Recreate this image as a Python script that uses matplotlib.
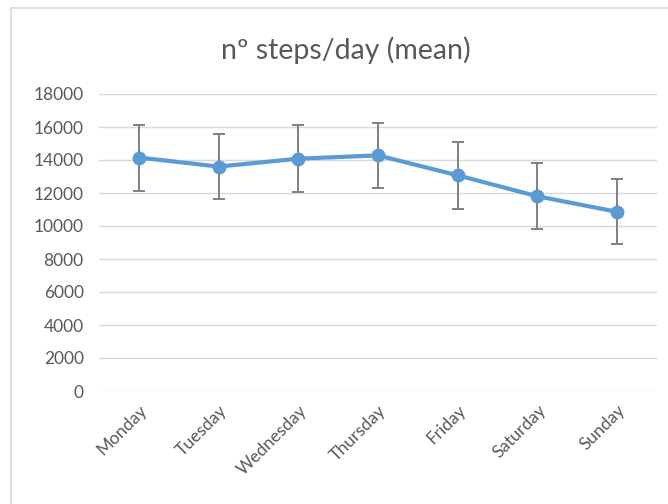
import matplotlib.pyplot as plt
from matplotlib.patches import Rectangle

# mean steps per day with error bars
days = ["Monday", "Tuesday", "Wednesday", "Thursday", "Friday", "Saturday", "Sunday"]
mean_steps = [14150, 13600, 14080, 14280, 13070, 11800, 10860]
err_steps = [2000, 1980, 2020, 1990, 2010, 1990, 1980]

plt.rcParams['font.family'] = ['Lato', 'DejaVu Sans']

fig = plt.figure(figsize=(6.68, 5.04), dpi=100)

# light frame around the chart
frame = Rectangle((11 / 668, -0.1), 1.2, (504 - 8) / 504 + 0.1,
                  transform=fig.transFigure, fill=False,
                  edgecolor='#D9D9D9', linewidth=1.2, zorder=0)
fig.patches.append(frame)

ax = fig.add_axes([99 / 668, (504 - 391) / 504, (657 - 99) / 668, (391 - 94) / 504])

x = range(len(days))
ax.errorbar(x, mean_steps, yerr=err_steps, fmt='none', ecolor='#808080',
            elinewidth=1.4, capsize=4.5, capthick=1.4, zorder=2)
ax.plot(x, mean_steps, color='#5B9BD5', linewidth=3, marker='o',
        markersize=9, zorder=3)

ax.set_xlim(-0.5, len(days) - 0.5)
ax.set_ylim(0, 18000)
ax.set_yticks(range(0, 18001, 2000))
ax.set_xticks(list(x))
ax.set_xticklabels(days, rotation=45, ha='right', rotation_mode='anchor')

ax.grid(axis='y', color='#D9D9D9', linewidth=1)
ax.set_axisbelow(True)
for s in ax.spines.values():
    s.set_visible(False)
ax.tick_params(axis='both', length=0, labelsize=12.5, labelcolor='#595959')
ax.tick_params(axis='y', pad=11)
ax.tick_params(axis='x', pad=8)

fig.text(345.5 / 668, (504 - 50) / 504, "nº steps/day (mean)", ha='center',
         va='center', fontsize=20.5, color='#595959')

fig.savefig('out.png', dpi=100, facecolor='white')
